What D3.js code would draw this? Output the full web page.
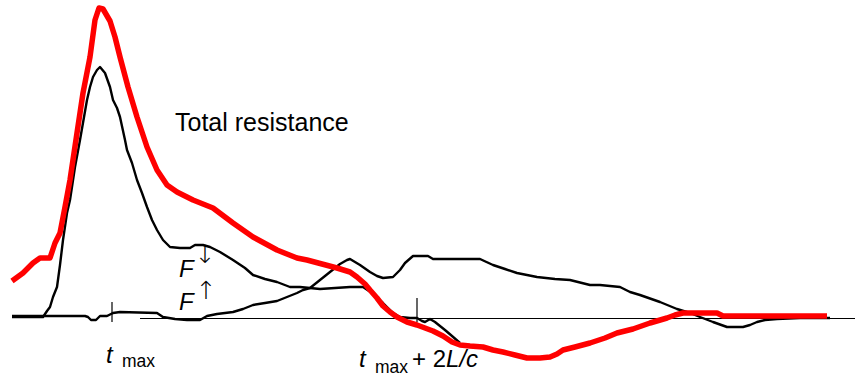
<!DOCTYPE html>
<html><head><meta charset="utf-8">
<script src="https://cdn.jsdelivr.net/npm/d3@7"></script>
<style>
html,body{margin:0;padding:0;background:#fff;}
svg text{font-family:"Liberation Sans",Arial,sans-serif;fill:#000;}
svg text.arrow{font-family:"Noto Sans","DejaVu Sans",sans-serif;}
</style></head>
<body><svg id="c" width="855" height="376"></svg>
<script>
// time axis (arbitrary units)
const totalT = [12,23,33,40,50,55,60,65,70,77,83,90,95,99,103,110,115,120,128,137,147,157,167,177,193,213,233,253,277,297,307,322,337,350,357,365,370,377,383,390,397,407,417,425,433,443,452,460,470,483,493,503,515,527,540,550,557,563,575,590,605,617,633,650,667,675,683,700,717,723,760,827];
const totalV = [3.8,4.6,5.6,6.1,6.1,7.6,8.6,11.2,13.9,18.6,22.6,26.2,29.9,31.1,31.0,29.8,28.2,26.2,23.2,20.2,17.2,14.9,13.4,12.7,11.9,11.1,9.6,8.2,6.9,6.1,5.9,5.5,5.1,4.7,4.2,3.5,2.9,2.1,1.3,0.7,0.2,-0.3,-0.6,-0.9,-1.2,-1.7,-2.3,-2.6,-2.7,-2.8,-3.1,-3.3,-3.6,-3.9,-3.9,-3.8,-3.5,-3.1,-2.8,-2.4,-1.9,-1.4,-1.0,-0.4,0.1,0.4,0.6,0.6,0.6,0.3,0.3,0.3];

const downT = [12,43,47,50,53,57,60,63,67,70,75,80,87,90,93,97,100,105,110,113,117,120,125,127,132,137,142,147,152,157,163,170,180,190,195,203,210,220,233,245,253,265,277,290,300,310,320,335,350,363,372,383,393,400,410,417,422,425,430,435,445,452,460];
const downV = [0.2,0.2,0.8,1.2,2.2,3.2,5.4,7.9,10.6,11.9,15.2,17.9,21.9,23.2,24.2,24.9,25.2,24.6,23.2,21.9,21.1,20.2,17.9,16.9,15.6,13.9,12.6,11.2,9.9,8.9,7.9,7.2,7.1,7.1,7.4,7.4,7.2,6.7,5.9,5.1,4.4,4.0,3.7,3.2,3.2,3.1,3.0,3.1,3.2,3.2,2.6,1.6,0.6,0.2,0.1,0.1,-0.2,-0.3,0.0,-0.3,-1.1,-1.7,-2.4];

const upT = [12,85,88,91,96,100,107,113,120,157,163,175,187,200,207,217,233,243,253,265,277,287,297,303,310,320,330,340,347,350,355,360,370,377,383,393,400,405,413,420,428,433,445,480,493,505,517,537,555,570,590,600,620,630,640,660,677,690,700,713,727,743,750,757,765,777,800,830];
const upV = [0.3,0.3,0.2,-0.1,-0.1,0.3,0.3,0.6,0.7,0.6,0.2,0.0,-0.1,-0.1,0.3,0.5,0.7,1.0,1.4,1.6,1.8,2.2,2.6,2.9,3.1,3.9,4.7,5.5,5.9,6.0,5.7,5.4,4.7,4.3,4.1,4.2,4.9,5.6,6.3,6.3,6.3,6.0,6.0,6.0,5.4,5.0,4.6,4.2,4.0,3.9,3.4,3.4,3.2,2.7,2.4,1.7,1.0,0.6,0.2,-0.3,-0.8,-0.8,-0.6,-0.3,-0.1,0.0,0.1,0.1];

const markT = [112, 417];          // t_max and t_max + 2L/c
const zeroLineT = [140, 855];

const svg = d3.select("#c");
const x = d3.scaleLinear().domain([0, 855]).range([0, 855]);
const y = d3.scaleLinear().domain([-5, 32]).range([369, -1]);

const line = d3.line().x(d => x(d[0])).y(d => y(d[1]));
const zip = (a, b) => a.map((t, i) => [t, b[i]]);

// zero line
svg.append("line")
  .attr("x1", x(zeroLineT[0])).attr("x2", x(zeroLineT[1]))
  .attr("y1", y(0) - 0.5).attr("y2", y(0) - 0.5)
  .attr("stroke", "#000").attr("stroke-width", 1.2);

// tick marks
svg.selectAll("line.mark").data(markT).enter().append("line")
  .attr("class", "mark")
  .attr("x1", d => x(d)).attr("x2", d => x(d))
  .attr("y1", (d, i) => y(0) - (i === 0 ? 17 : 21)).attr("y2", y(0) + 3)
  .attr("stroke", "#000").attr("stroke-width", 1.2);

// black curves
[zip(upT, upV), zip(downT, downV)].forEach(data => {
  svg.append("path").datum(data).attr("d", line)
    .attr("fill", "none").attr("stroke", "#000")
    .attr("stroke-width", 2.4).attr("stroke-linejoin", "round");
});

// red total resistance
svg.append("path").datum(zip(totalT, totalV)).attr("d", line)
  .attr("fill", "none").attr("stroke", "#ff0000")
  .attr("stroke-width", 5.5).attr("stroke-linejoin", "round");

// labels
svg.append("text").attr("x", 175).attr("y", 131)
  .attr("font-size", 25).text("Total resistance");

svg.append("text").attr("x", 179).attr("y", 277)
  .attr("font-size", 24).attr("font-style", "italic").text("F");
svg.append("text").attr("class", "arrow").attr("x", 205).attr("y", 263)
  .attr("font-size", 25).attr("font-weight", 300).attr("text-anchor", "middle").text("↓");
svg.append("text").attr("x", 179).attr("y", 310)
  .attr("font-size", 24).attr("font-style", "italic").text("F");
svg.append("text").attr("class", "arrow").attr("x", 206).attr("y", 299)
  .attr("font-size", 25).attr("font-weight", 300).attr("text-anchor", "middle").text("↑");

const l1 = svg.append("text").attr("x", 106).attr("y", 363).attr("font-size", 24);
l1.append("tspan").attr("font-style", "italic").text("t");
l1.append("tspan").attr("x", 122).attr("y", 367).attr("font-size", 17.5).text("max");

const l2 = svg.append("text").attr("x", 359).attr("y", 367).attr("font-size", 24);
l2.append("tspan").attr("font-style", "italic").text("t");
l2.append("tspan").attr("x", 375).attr("y", 373).attr("font-size", 17.5).text("max");
l2.append("tspan").attr("x", 412).attr("y", 367).text("+ 2");
l2.append("tspan").attr("font-style", "italic").text("L/c");
</script></body></html>
